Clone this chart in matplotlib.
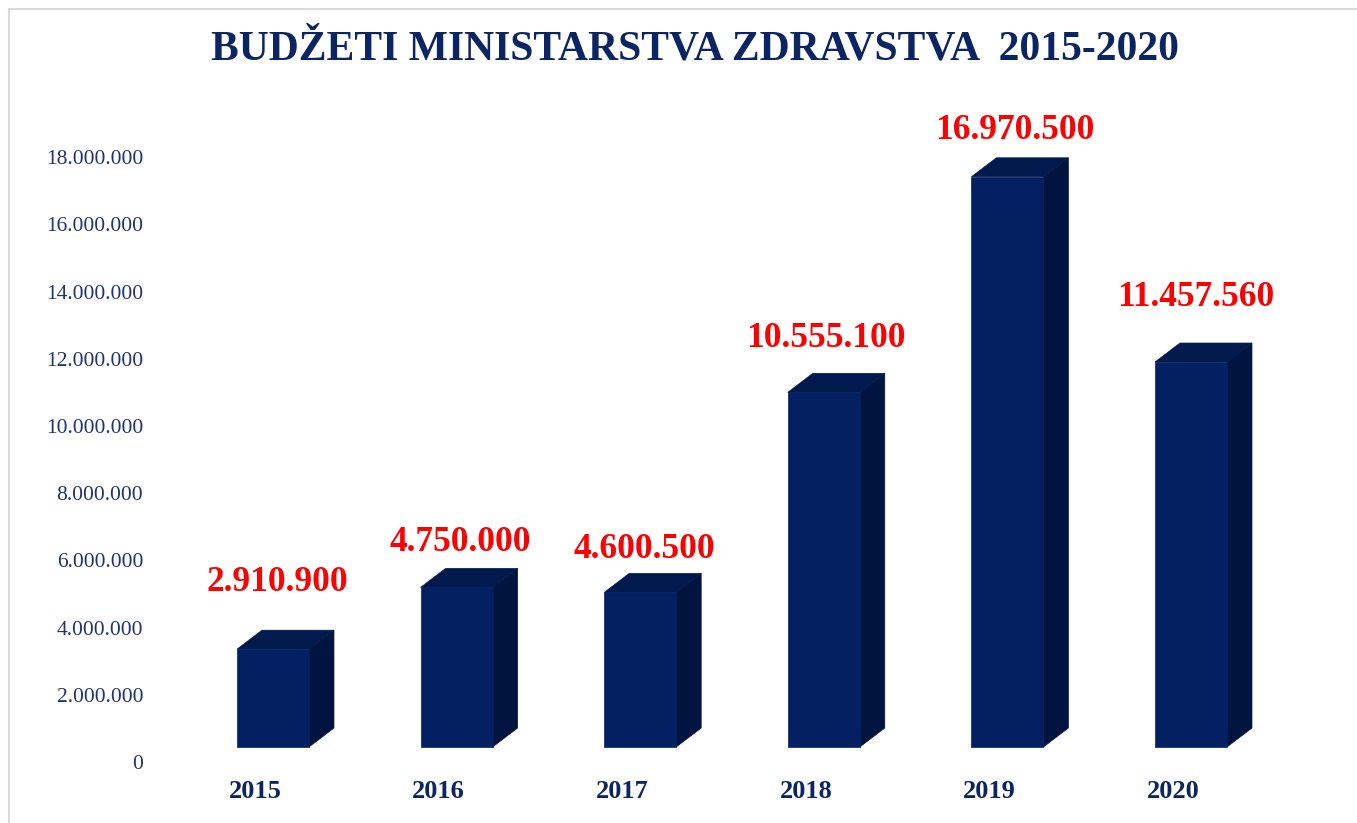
import matplotlib
matplotlib.use("Agg")
import matplotlib.pyplot as plt
from matplotlib.patches import Polygon
from matplotlib.lines import Line2D
import matplotlib.transforms as mtransforms

# ---- data ----
years = ["2015", "2016", "2017", "2018", "2019", "2020"]
budgets = [2910900, 4750000, 4600500, 10555100, 16970500, 11457560]
ytick_values = [0, 2000000, 4000000, 6000000, 8000000, 10000000,
                12000000, 14000000, 16000000, 18000000]
title = "BUDŽETI MINISTARSTVA ZDRAVSTVA  2015-2020"

# ---- style ----
W, H, DPI = 1357, 823, 100
NAVY = "#0b2463"
FRONT = "#022062"
SIDE = "#00143f"
TOP = "#011a4e"
RED = "#ff0000"
SERIF = ["Liberation Serif", "DejaVu Serif"]
label_dy_px = [67, 45, 43, 54, 46, 65]  # manual label lift above bar top
label_dx_px = [4, 4, 4, 2, 7, 5]
depth_dx_px, depth_dy_px = 25, 19

def fmt(v):
    return f"{v:,}".replace(",", ".")

fig = plt.figure(figsize=(W / DPI, H / DPI), dpi=DPI)
fig.patch.set_facecolor("white")

# axes placement in pixels
ax_left_px, ax_right_px = 163.2, 1264.8
ax_bottom_px, ax_top_px = 747, 142.2  # from top of figure
ax = fig.add_axes([ax_left_px / W, (H - ax_bottom_px) / H,
                   (ax_right_px - ax_left_px) / W,
                   (ax_bottom_px - ax_top_px) / H])
ax.set_xlim(-0.5, 5.5)
ax.set_ylim(0, 18000000)
for s in ax.spines.values():
    s.set_visible(False)
ax.patch.set_alpha(0)

px_per_x = (ax_right_px - ax_left_px) / 6.0
px_per_y = (ax_bottom_px - ax_top_px) / 18000000
ddx = depth_dx_px / px_per_x
ddy = depth_dy_px / px_per_y

bar_off, bar_w = -0.098, 0.392
for i, v in enumerate(budgets):
    x0 = i + bar_off
    x1 = x0 + bar_w
    front = Polygon([(x0, 0), (x1, 0), (x1, v), (x0, v)], closed=True,
                    facecolor=FRONT, edgecolor=FRONT, lw=0.5, clip_on=False)
    top = Polygon([(x0, v), (x1, v), (x1 + ddx, v + ddy), (x0 + ddx, v + ddy)],
                  closed=True, facecolor=TOP, edgecolor=TOP, lw=0.5, clip_on=False)
    side = Polygon([(x1, 0), (x1 + ddx, ddy), (x1 + ddx, v + ddy), (x1, v)],
                   closed=True, facecolor=SIDE, edgecolor=SIDE, lw=0.5, clip_on=False)
    for p in (side, top, front):
        ax.add_patch(p)
    ax.annotate(fmt(v), xy=((x0 + x1) / 2, v),
                xytext=(label_dx_px[i] * 72 / DPI, label_dy_px[i] * 72 / DPI),
                textcoords="offset points", ha="center", va="center",
                color=RED, fontsize=25.5, fontweight="bold", family=SERIF,
                annotation_clip=False)

# y ticks
ax.set_yticks(ytick_values)
ax.set_yticklabels([fmt(v) for v in ytick_values], family=SERIF,
                   fontsize=15.5, color="#1f3470")
ax.tick_params(axis="y", length=0, pad=14.4)
offset = mtransforms.ScaledTranslation(0, -15 / DPI, fig.dpi_scale_trans)
for lbl in ax.get_yticklabels():
    lbl.set_transform(lbl.get_transform() + offset)

# x ticks
ax.set_xticks(range(len(years)))
ax.set_xticklabels(years, family=SERIF, fontsize=19, fontweight="bold", color=NAVY)
ax.tick_params(axis="x", length=0, pad=24)

# title
fig.text(695 / W, 1 - 49 / H, title, ha="center", va="center",
         family=SERIF, fontsize=30, fontweight="bold", color=NAVY)

# border
fig.add_artist(Line2D([9 / W, 1], [1 - 9 / H, 1 - 9 / H], color="#d9d9d9", lw=1.5))
fig.add_artist(Line2D([9 / W, 9 / W], [0, 1 - 9 / H], color="#d9d9d9", lw=1.5))

fig.savefig("out.png", dpi=DPI, facecolor="white")
